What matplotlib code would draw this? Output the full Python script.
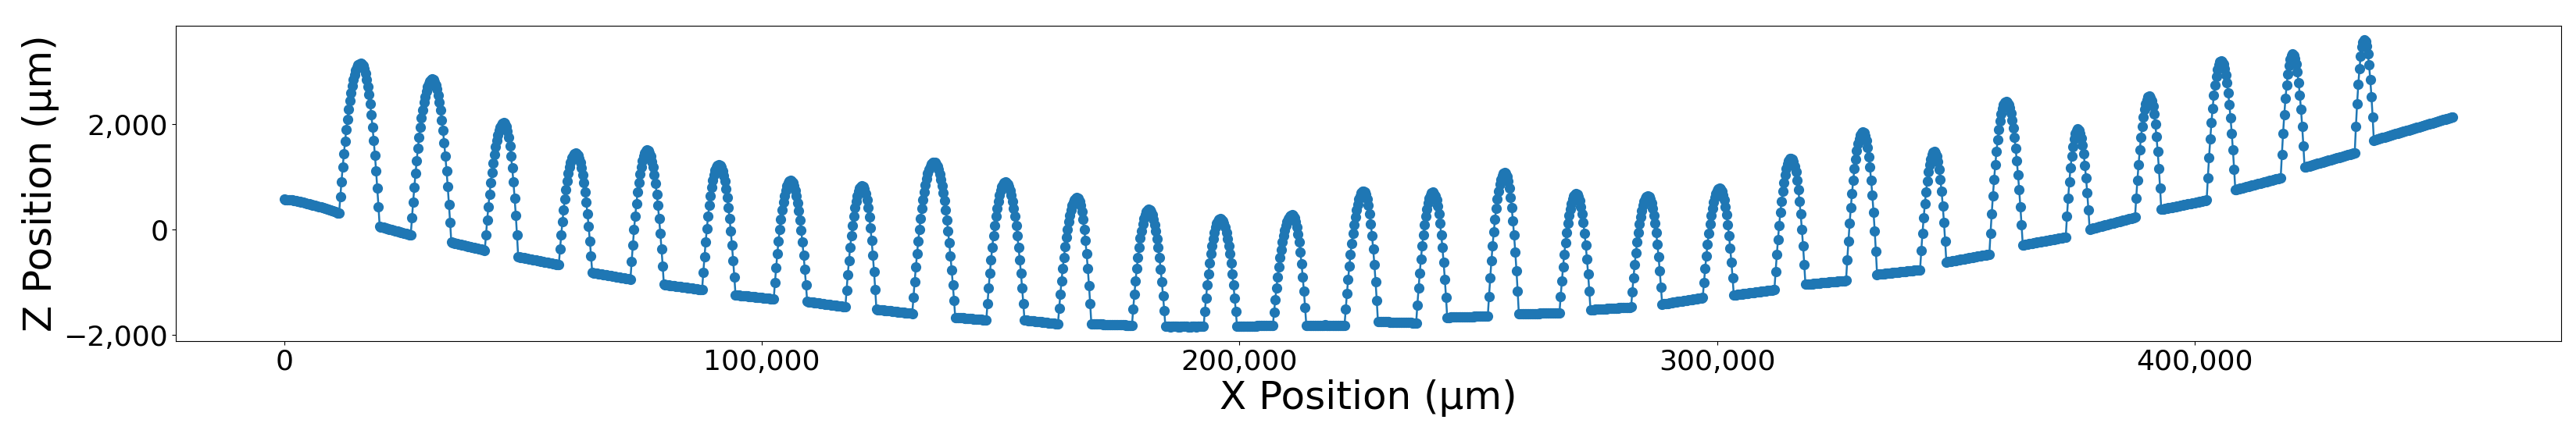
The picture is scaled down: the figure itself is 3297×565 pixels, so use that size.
import numpy as np
import matplotlib
matplotlib.use("Agg")
import matplotlib.pyplot as plt
from matplotlib.ticker import StrMethodFormatter

# =============================================
# DATA  (profile scan, one Z value every 250 um in X)
# each row = 40 samples = 10,000 um
# =============================================
X_STEP_UM = 250

z_um = [
    575, 574, 572, 571, 570, 568, 565, 562, 558, 553, 548, 543, 538, 533, 528, 523, 518, 512, 506, 500, 494, 488, 482, 476, 470, 464, 458, 452, 446, 440, 434, 427, 420, 413, 406, 399, 392, 385, 378, 370,
    362, 354, 346, 338, 330, 322, 314, 621, 912, 1185, 1438, 1674, 1896, 2098, 2281, 2449, 2596, 2730, 2844, 2941, 3021, 3080, 3126, 3151, 3160, 3148, 3110, 3052, 2966, 2856, 2723, 2568, 2385, 2180, 1948, 1694, 1416, 1114, 785, 435,
    60, 54, 48, 42, 35, 29, 23, 17, 11, 5, -2, -8, -14, -20, -26, -32, -38, -45, -51, -57, -63, -69, -75, -82, -88, -94, -100, 220, 522, 806, 1069, 1315, 1546, 1756, 1945, 2120, 2274, 2413, 2531, 2632,
    2715, 2777, 2824, 2851, 2860, 2848, 2810, 2752, 2666, 2556, 2423, 2268, 2085, 1880, 1648, 1394, 1116, 814, 485, 135, -240, -245, -251, -256, -261, -267, -272, -277, -283, -288, -294, -299, -304, -310, -315, -320, -326, -331, -336, -342,
    -347, -352, -358, -363, -368, -374, -379, -384, -390, -97, 177, 435, 671, 888, 1087, 1269, 1429, 1572, 1693, 1797, 1883, 1950, 1996, 2025, 2035, 2017, 1964, 1876, 1752, 1591, 1398, 1168, 903, 601, 265, -107, -515, -519, -524, -528,
    -533, -537, -541, -546, -550, -554, -559, -563, -568, -572, -577, -581, -586, -590, -594, -599, -603, -607, -612, -616, -621, -625, -630, -634, -638, -643, -647, -651, -656, -660, -665, -372, -102, 149, 376, 582, 765, 929, 1069, 1188,
    1286, 1362, 1418, 1449, 1460, 1449, 1415, 1355, 1273, 1169, 1041, 891, 716, 520, 300, 56, -212, -501, -815, -819, -823, -827, -831, -835, -838, -842, -846, -850, -854, -858, -862, -866, -870, -873, -877, -881, -885, -889, -893, -897,
    -901, -905, -909, -912, -916, -920, -924, -928, -932, -936, -940, -602, -291, -2, 261, 498, 709, 898, 1059, 1196, 1309, 1397, 1461, 1498, 1510, 1497, 1459, 1393, 1301, 1184, 1041, 873, 676, 457, 210, -63, -364, -688, -1040, -1043,
    -1046, -1049, -1052, -1056, -1059, -1062, -1065, -1068, -1071, -1074, -1077, -1081, -1084, -1087, -1090, -1093, -1096, -1099, -1102, -1106, -1109, -1112, -1115, -1118, -1121, -1124, -1127, -1131, -1134, -1137, -1140, -812, -511, -230, 24, 254, 458, 641, 798, 931,
    1040, 1126, 1188, 1223, 1235, 1223, 1186, 1121, 1032, 918, 780, 616, 426, 213, -27, -292, -584, -898, -1240, -1242, -1245, -1247, -1249, -1252, -1254, -1256, -1259, -1261, -1263, -1266, -1268, -1270, -1273, -1275, -1277, -1280, -1282, -1284, -1287, -1289,
    -1292, -1294, -1296, -1298, -1301, -1303, -1306, -1308, -1310, -1313, -1315, -1004, -719, -453, -212, 6, 199, 373, 521, 647, 751, 832, 890, 924, 935, 924, 889, 829, 746, 641, 512, 360, 183, -15, -238, -484, -755, -1048, -1365, -1368,
    -1371, -1374, -1378, -1381, -1384, -1387, -1390, -1393, -1396, -1399, -1403, -1406, -1409, -1412, -1415, -1418, -1421, -1424, -1428, -1431, -1434, -1437, -1440, -1443, -1446, -1449, -1453, -1456, -1459, -1462, -1465, -1148, -855, -584, -338, -115, 83, 260, 412, 541,
    646, 729, 789, 824, 835, 819, 769, 688, 574, 426, 248, 36, -208, -487, -796, -1139, -1515, -1518, -1520, -1523, -1525, -1528, -1530, -1533, -1535, -1538, -1540, -1543, -1545, -1548, -1550, -1553, -1555, -1558, -1560, -1563, -1565, -1568, -1570, -1573,
    -1575, -1578, -1580, -1583, -1585, -1588, -1590, -1279, -986, -710, -454, -216, 9, 213, 397, 566, 716, 851, 966, 1064, 1144, 1205, 1251, 1276, 1285, 1276, 1250, 1202, 1140, 1058, 958, 840, 701, 548, 373, 185, -25, -255, -500, -762,
    -1045, -1346, -1665, -1667, -1669, -1671, -1673, -1675, -1677, -1678, -1680, -1682, -1684, -1686, -1688, -1690, -1692, -1694, -1696, -1698, -1700, -1702, -1703, -1705, -1707, -1709, -1711, -1713, -1715, -1397, -1101, -822, -567, -332, -116, 81, 254, 409, 540, 653,
    746, 818, 868, 900, 910, 900, 868, 818, 746, 653, 540, 409, 254, 81, -116, -332, -567, -822, -1101, -1397, -1715, -1718, -1720, -1723, -1726, -1729, -1731, -1734, -1736, -1739, -1742, -1745, -1747, -1750, -1752, -1755, -1758, -1761, -1763, -1766,
    -1769, -1771, -1774, -1777, -1779, -1782, -1785, -1787, -1790, -1500, -1228, -974, -740, -525, -328, -148, 10, 152, 272, 375, 460, 526, 572, 600, 610, 593, 543, 460, 344, 192, 10, -206, -456, -740, -1056, -1406, -1790, -1791, -1791, -1792,
    -1793, -1794, -1795, -1795, -1796, -1797, -1798, -1798, -1799, -1800, -1800, -1801, -1802, -1803, -1803, -1804, -1805, -1806, -1806, -1807, -1808, -1809, -1809, -1810, -1811, -1812, -1812, -1813, -1814, -1814, -1815, -1511, -1232, -972, -737, -524, -334, -165, -20, 103,
    205, 284, 341, 374, 385, 374, 341, 283, 203, 100, -24, -171, -343, -534, -750, -988, -1250, -1533, -1840, -1839, -1838, -1840, -1842, -1841, -1840, -1838, -1836, -1839, -1841, -1842, -1843, -1841, -1839, -1838, -1837, -1839, -1841, -1843, -1844, -1842,
    -1840, -1839, -1838, -1840, -1842, -1840, -1839, -1840, -1841, -1840, -1840, -1557, -1297, -1055, -835, -637, -460, -302, -167, -52, 42, 116, 169, 200, 210, 200, 169, 116, 42, -52, -167, -302, -460, -637, -835, -1055, -1297, -1557, -1840, -1839,
    -1838, -1838, -1837, -1836, -1835, -1834, -1833, -1833, -1832, -1831, -1830, -1829, -1828, -1828, -1827, -1826, -1825, -1824, -1823, -1823, -1822, -1821, -1820, -1819, -1818, -1818, -1817, -1816, -1815, -1561, -1324, -1101, -896, -708, -536, -379, -240, -116, -11, 79,
    154, 212, 251, 277, 285, 270, 226, 154, 52, -80, -240, -429, -647, -896, -1172, -1479, -1815, -1814, -1813, -1815, -1817, -1816, -1815, -1813, -1812, -1814, -1816, -1817, -1818, -1816, -1814, -1812, -1811, -1813, -1815, -1816, -1817, -1815, -1813, -1814,
    -1816, -1815, -1814, -1816, -1818, -1817, -1815, -1814, -1815, -1506, -1218, -948, -699, -471, -262, -71, 98, 248, 375, 485, 576, 646, 694, 725, 735, 718, 666, 580, 460, 303, 115, -108, -366, -660, -986, -1348, -1745, -1746, -1747, -1747,
    -1748, -1749, -1750, -1750, -1751, -1752, -1753, -1754, -1755, -1755, -1756, -1757, -1758, -1758, -1759, -1760, -1761, -1761, -1762, -1763, -1764, -1765, -1766, -1766, -1767, -1768, -1769, -1769, -1770, -1428, -1113, -820, -555, -314, -101, 90, 254, 393, 507, 596,
    660, 698, 710, 693, 644, 562, 446, 297, 116, -97, -344, -626, -938, -1285, -1665, -1664, -1664, -1663, -1662, -1661, -1661, -1660, -1659, -1658, -1658, -1657, -1656, -1655, -1655, -1654, -1653, -1652, -1652, -1651, -1650, -1649, -1649, -1648, -1647, -1646,
    -1646, -1645, -1644, -1643, -1643, -1642, -1641, -1640, -1640, -1264, -918, -596, -305, -40, 194, 404, 584, 736, 862, 960, 1031, 1071, 1085, 1066, 1010, 917, 787, 618, 414, 172, -107, -425, -778, -1170, -1600, -1600, -1599, -1599, -1598, -1597,
    -1596, -1596, -1595, -1595, -1594, -1594, -1593, -1593, -1592, -1591, -1591, -1590, -1589, -1589, -1588, -1588, -1587, -1586, -1586, -1585, -1585, -1584, -1584, -1583, -1582, -1582, -1581, -1581, -1580, -1267, -980, -713, -470, -250, -56, 119, 268, 395, 499, 581,
    640, 674, 685, 670, 623, 547, 440, 301, 134, -65, -294, -555, -845, -1167, -1520, -1519, -1517, -1516, -1514, -1513, -1511, -1510, -1508, -1507, -1505, -1504, -1502, -1501, -1499, -1498, -1496, -1495, -1494, -1492, -1491, -1489, -1488, -1486, -1485, -1483,
    -1482, -1480, -1479, -1477, -1476, -1474, -1473, -1471, -1470, -1180, -912, -664, -439, -234, -53, 109, 248, 366, 462, 538, 593, 624, 635, 621, 578, 507, 407, 278, 123, -62, -275, -518, -788, -1087, -1415, -1411, -1408, -1404, -1400, -1397,
    -1393, -1389, -1386, -1382, -1378, -1375, -1371, -1367, -1364, -1360, -1356, -1353, -1349, -1345, -1342, -1338, -1334, -1331, -1327, -1323, -1320, -1316, -1312, -1309, -1305, -1301, -1298, -1294, -1290, -1004, -740, -495, -273, -72, 106, 266, 403, 519, 615, 690,
    744, 775, 785, 771, 728, 658, 560, 433, 279, 97, -114, -354, -620, -916, -1240, -1237, -1234, -1231, -1228, -1225, -1222, -1219, -1216, -1213, -1210, -1208, -1205, -1202, -1199, -1196, -1193, -1190, -1187, -1184, -1181, -1178, -1175, -1172, -1169, -1166,
    -1163, -1160, -1158, -1155, -1152, -1149, -1146, -1143, -1140, -795, -477, -182, 85, 328, 543, 735, 900, 1040, 1155, 1245, 1310, 1348, 1360, 1343, 1293, 1210, 1094, 942, 760, 544, 294, 10, -306, -656, -1040, -1038, -1036, -1033, -1031, -1029,
    -1027, -1025, -1022, -1020, -1018, -1016, -1014, -1011, -1009, -1007, -1005, -1003, -1000, -998, -996, -994, -991, -989, -987, -985, -983, -980, -978, -976, -974, -972, -969, -967, -965, -575, -216, 117, 419, 693, 936, 1154, 1340, 1498, 1628, 1730,
    1804, 1846, 1860, 1841, 1784, 1691, 1559, 1388, 1183, 939, 657, 336, -21, -416, -850, -848, -845, -843, -840, -838, -835, -833, -830, -828, -825, -823, -820, -818, -815, -813, -810, -808, -805, -803, -800, -798, -795, -793, -790, -788,
    -785, -783, -780, -778, -775, -773, -770, -768, -765, -763, -760, -401, -73, 222, 488, 722, 924, 1094, 1236, 1345, 1422, 1469, 1485, 1464, 1401, 1296, 1149, 960, 729, 456, 141, -216, -615, -611, -607, -603, -598, -594, -590, -586,
    -582, -578, -573, -569, -565, -561, -557, -553, -548, -544, -540, -536, -532, -528, -523, -519, -515, -511, -507, -503, -498, -494, -490, -486, -482, -478, -473, -469, -465, -65, 304, 646, 956, 1237, 1487, 1710, 1901, 2064, 2197, 2302,
    2377, 2421, 2435, 2421, 2381, 2310, 2212, 2086, 1934, 1754, 1544, 1310, 1045, 754, 432, 86, -290, -286, -282, -278, -273, -269, -265, -261, -257, -253, -248, -244, -240, -236, -232, -228, -223, -219, -215, -211, -207, -203, -198, -194,
    -190, -186, -182, -178, -173, -169, -165, -161, -157, -153, -148, -144, -140, 250, 598, 906, 1172, 1398, 1582, 1726, 1828, 1890, 1910, 1891, 1834, 1739, 1606, 1435, 1226, 979, 694, 371, 10, 16, 22, 28, 34, 40, 46, 51,
    57, 63, 69, 75, 81, 87, 93, 99, 105, 111, 117, 122, 128, 134, 140, 146, 152, 158, 164, 170, 176, 182, 188, 193, 199, 205, 211, 217, 223, 229, 235, 603, 939, 1241, 1514, 1753, 1960, 2135, 2280, 2391,
    2471, 2519, 2535, 2514, 2449, 2342, 2191, 1998, 1761, 1482, 1159, 794, 385, 390, 394, 399, 403, 408, 413, 417, 422, 426, 431, 436, 440, 445, 449, 454, 459, 463, 468, 472, 477, 482, 486, 491, 496, 500, 505, 509,
    514, 519, 523, 528, 532, 537, 542, 546, 551, 555, 560, 984, 1371, 1719, 2033, 2309, 2548, 2749, 2916, 3044, 3136, 3191, 3210, 3193, 3141, 3057, 2938, 2784, 2598, 2377, 2122, 1832, 1510, 1152, 760, 766, 772, 778, 784, 790,
    796, 802, 807, 813, 819, 825, 831, 837, 843, 849, 855, 861, 867, 873, 878, 884, 890, 896, 902, 908, 914, 920, 926, 932, 938, 943, 949, 955, 961, 967, 973, 979, 985, 1432, 1831, 2184, 2489, 2748, 2959, 3124,
    3241, 3312, 3335, 3314, 3249, 3142, 2991, 2798, 2561, 2282, 1959, 1594, 1185, 1192, 1198, 1205, 1211, 1218, 1224, 1231, 1237, 1244, 1250, 1257, 1264, 1270, 1277, 1283, 1290, 1296, 1303, 1309, 1316, 1322, 1329, 1336, 1342, 1349, 1355, 1362,
    1368, 1375, 1381, 1388, 1395, 1401, 1408, 1414, 1421, 1427, 1434, 1441, 1447, 1454, 1460, 1961, 2396, 2763, 3065, 3298, 3466, 3566, 3600, 3570, 3481, 3332, 3125, 2857, 2531, 2145, 1700, 1707, 1713, 1720, 1727, 1733, 1740, 1747, 1753, 1760,
    1767, 1773, 1780, 1787, 1793, 1800, 1807, 1813, 1820, 1827, 1833, 1840, 1847, 1853, 1860, 1867, 1873, 1880, 1887, 1893, 1900, 1907, 1913, 1920, 1927, 1933, 1940, 1947, 1953, 1960, 1967, 1973, 1980, 1987, 1993, 2000, 2007, 2013, 2020, 2027,
    2033, 2040, 2047, 2053, 2060, 2067, 2073, 2080, 2087, 2093, 2100, 2107, 2113, 2120, 2127, 2133, 2140,
]

x_um = np.arange(len(z_um)) * X_STEP_UM

# =============================================
# GRAF
# =============================================
fig = plt.figure(figsize=(32.98, 5.65), dpi=100)
ax = fig.add_axes([0.0682, 0.2265, 0.9257, 0.7150])

ax.plot(x_um, z_um, marker='o', markersize=8.5, linewidth=1.8, color='#1f77b4')

ax.set_xlabel('X Position (µm)', fontsize=36)
ax.set_ylabel('Z Position (µm)', fontsize=36)
ax.tick_params(axis='both', labelsize=26)
ax.xaxis.set_major_formatter(StrMethodFormatter('{x:,.0f}'))
ax.yaxis.set_major_formatter(StrMethodFormatter('{x:,.0f}'))

fig.savefig('out.png', dpi=100)
